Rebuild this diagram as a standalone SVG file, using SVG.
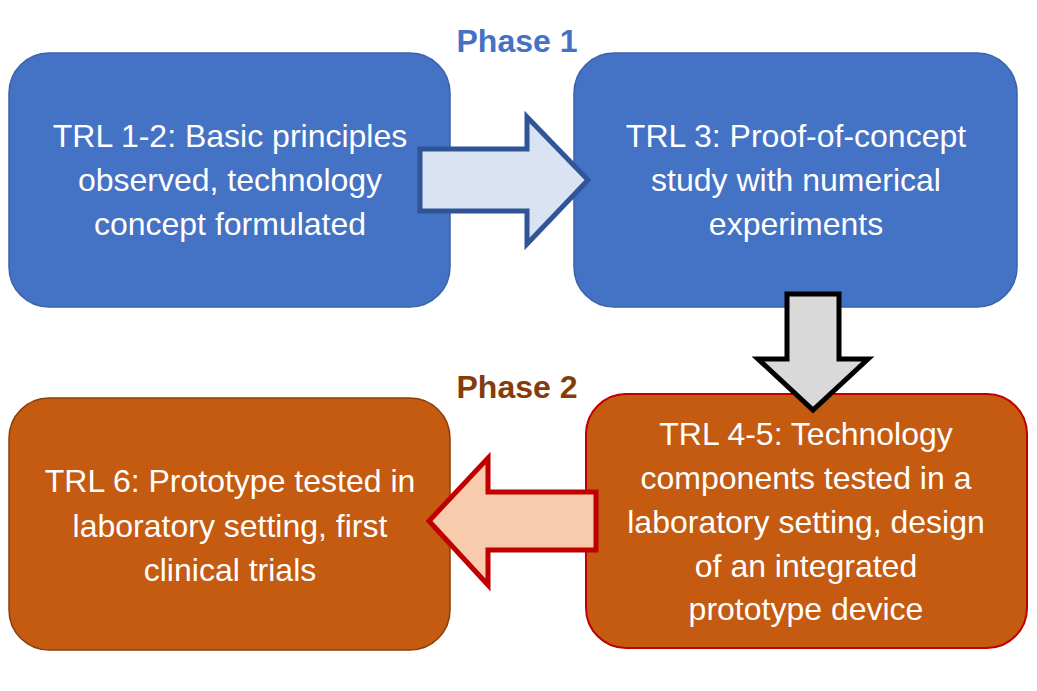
<svg xmlns="http://www.w3.org/2000/svg" width="1037" height="691" viewBox="0 0 1037 691">
<style>
.t{font-family:"Liberation Sans",Arial,sans-serif;font-size:32px;fill:#ffffff;text-anchor:middle}
.ph{font-family:"Liberation Sans",Arial,sans-serif;font-size:32px;font-weight:bold;text-anchor:middle}
.blue{fill:#4472C4;stroke:#3A62AA;stroke-width:1.5}
.org{fill:#C55A11;stroke:#8A3E0C;stroke-width:1.5}
.orgR{fill:#C55A11;stroke:#C00000;stroke-width:2}
</style>
<rect width="1037" height="691" fill="#ffffff"/>
<text class="ph" x="517" y="52" fill="#4472C4">Phase 1</text>
<text class="ph" x="517" y="398" fill="#843C0C">Phase 2</text>
<g id="node-trl12">
<rect class="blue" x="9" y="53" width="441" height="254" rx="40" ry="40"/>
<text class="t" x="230" y="147">TRL 1-2: Basic principles</text>
<text class="t" x="230" y="191">observed, technology</text>
<text class="t" x="230" y="235">concept formulated</text>
</g>
<g id="node-trl3">
<rect class="blue" x="574" y="53" width="443" height="254" rx="40" ry="40"/>
<text class="t" x="796" y="147">TRL 3: Proof-of-concept</text>
<text class="t" x="796" y="191">study with numerical</text>
<text class="t" x="796" y="235">experiments</text>
</g>
<g id="node-trl6">
<rect class="org" x="9" y="398" width="441" height="252" rx="40" ry="40"/>
<text class="t" x="230" y="492">TRL 6: Prototype tested in</text>
<text class="t" x="230" y="537">laboratory setting, first</text>
<text class="t" x="230" y="581">clinical trials</text>
</g>
<g id="node-trl45">
<rect class="orgR" x="586" y="394" width="441" height="254" rx="40" ry="40"/>
<text class="t" x="806" y="445">TRL 4-5: Technology</text>
<text class="t" x="806" y="489">components tested in a</text>
<text class="t" x="806" y="533">laboratory setting, design</text>
<text class="t" x="806" y="577">of an integrated</text>
<text class="t" x="806" y="620">prototype device</text>
</g>
<g id="connectors" stroke-linejoin="miter" stroke-width="5">
<polygon points="420,149 527,149 527,117 588,180 527,244 527,211 420,211" fill="#DAE3F3" stroke="#2F5597"/>
<polygon points="787,294 839,294 839,359 868,359 813,410 758,359 787,359" fill="#D9D9D9" stroke="#000000"/>
<polygon points="596,492 488,492 488,458 429,521 488,585 488,550 596,550" fill="#F8CBAD" stroke="#C00000"/>
</g>
</svg>
